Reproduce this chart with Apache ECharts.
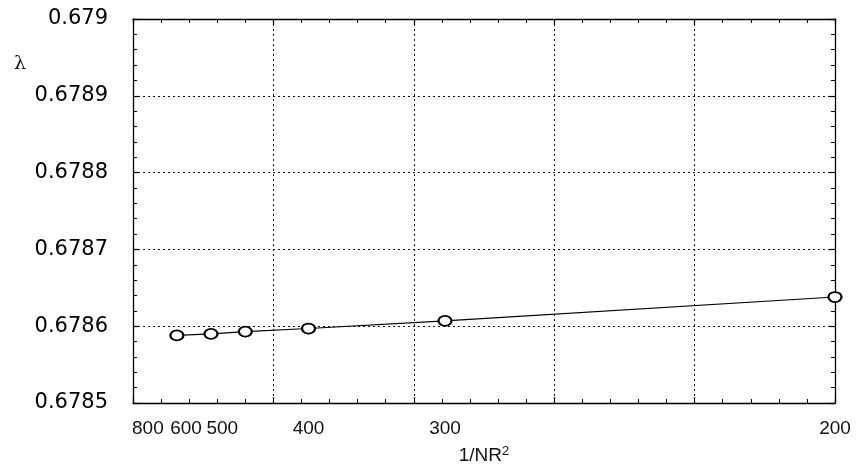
<!DOCTYPE html>
<html>
<head>
<meta charset="utf-8">
<script src="https://cdn.jsdelivr.net/npm/echarts@6/dist/echarts.min.js"></script>
<style>
  html, body { margin: 0; padding: 0; background: #fff; }
  #chart { width: 857px; height: 470px; }
</style>
</head>
<body>
<div id="chart"></div>
<script>
// Grid resolution NR and the computed eigenvalue λ at each resolution
const nrValues = [800, 600, 500, 400, 300, 200];
const lambdaValues = [0.678588, 0.67859, 0.678593, 0.678597, 0.678607, 0.678638];

// Axis tick labels
const xTickLabels = ['800', '600', '500', '400', '300', '200'];
const yTickLabels = ['0.6785', '0.6786', '0.6787', '0.6788', '0.6789', '0.679'];

// Horizontal nudges (px) so the crowded fine-grid labels do not collide
const xLabelNudge = { '800': -29, '600': -25, '500': -23 };

const xMin = 0, xMax = 2.5e-5, xStep = 5e-6;
const yMin = 0.6785, yMax = 0.679, yStep = 0.0001;

const points = nrValues.map((n, i) => [1 / (n * n), lambdaValues[i]]);

const rich = {};
xTickLabels.forEach(t => {
  const d = xLabelNudge[t] || 0;
  rich['l' + t] = {
    fontFamily: 'Liberation Sans', fontSize: 19, color: '#111',
    padding: d < 0 ? [0, -2 * d, 0, 0] : [0, 0, 0, 2 * d]
  };
});

// Frame, dotted grid and inward-pointing ticks on all four sides
function frameLine() { return { show: true, onZero: false, lineStyle: { color: '#000', width: 1.3 } }; }
function dotted() { return { show: true, lineStyle: { color: '#111', width: 1, type: [2, 3] } }; }
function tickIn() { return { show: true, inside: true, length: 6, lineStyle: { color: '#000', width: 1.2 } }; }
function minorIn() { return { show: true, splitNumber: 5, length: 4, lineStyle: { color: '#000', width: 1 } }; }

const chart = echarts.init(document.getElementById('chart'), null, { renderer: 'canvas' });
chart.setOption({
  backgroundColor: '#fff',
  animation: false,
  title: {
    text: 'λ', left: 9, top: 50,
    textStyle: { fontFamily: 'DejaVu Serif', fontSize: 19, fontWeight: 'normal', color: '#111' }
  },
  grid: { left: 133, right: 22, top: 19, bottom: 66 },
  xAxis: [
    {
      type: 'value', position: 'bottom', min: xMin, max: xMax, interval: xStep,
      axisLine: frameLine(), axisTick: tickIn(), minorTick: minorIn(), splitLine: dotted(),
      axisLabel: {
        show: true, margin: 16,
        customValues: nrValues.map(n => 1 / (n * n)),
        formatter: function (v) {
          const i = nrValues.findIndex(n => Math.abs(1 / (n * n) - v) < 1e-12);
          const t = xTickLabels[i];
          return '{l' + t + '|' + t + '}';
        },
        rich: rich
      },
      name: '1/NR{sup|2}', nameLocation: 'middle', nameGap: 42,
      nameTextStyle: {
        fontFamily: 'Liberation Sans', fontSize: 19, color: '#111',
        rich: {
          sup: { fontFamily: 'Liberation Sans', fontSize: 13, color: '#111', verticalAlign: 'top', padding: [0, 0, 8, 0] }
        }
      }
    },
    {
      type: 'value', position: 'top', min: xMin, max: xMax, interval: xStep,
      axisLine: frameLine(), axisTick: tickIn(), minorTick: minorIn(),
      splitLine: { show: false }, axisLabel: { show: false }
    }
  ],
  yAxis: [
    {
      type: 'value', position: 'left', min: yMin, max: yMax, interval: yStep,
      axisLine: frameLine(), axisTick: tickIn(), minorTick: minorIn(), splitLine: dotted(),
      axisLabel: {
        show: true, margin: 25,
        fontFamily: 'DejaVu Sans', fontSize: 21, fontWeight: 'normal', color: '#000',
        formatter: function (v) {
          return yTickLabels[Math.round((v - yMin) / yStep)];
        }
      }
    },
    {
      type: 'value', position: 'right', min: yMin, max: yMax, interval: yStep,
      axisLine: frameLine(), axisTick: tickIn(), minorTick: minorIn(),
      splitLine: { show: false }, axisLabel: { show: false }
    }
  ],
  series: [{
    type: 'line',
    xAxisIndex: 0, yAxisIndex: 0,
    data: points,
    symbol: 'emptyCircle',
    symbolSize: [13, 10],
    showAllSymbol: true,
    lineStyle: { color: '#000', width: 1.2 },
    itemStyle: { color: '#000', borderColor: '#000', borderWidth: 1.3 },
    z: 5
  }]
});
</script>
</body>
</html>
